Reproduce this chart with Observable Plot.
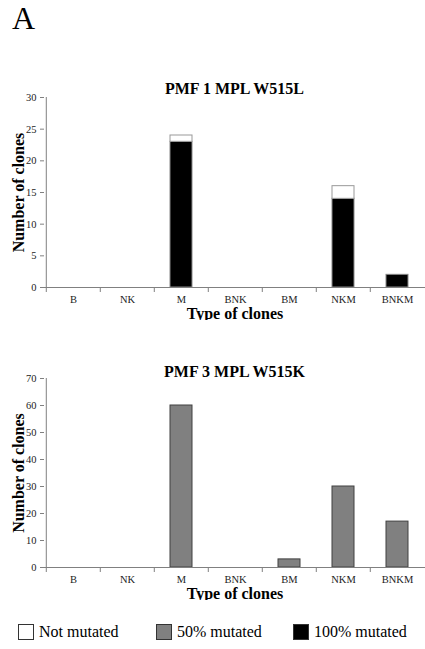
<!DOCTYPE html>
<html><head><meta charset="utf-8">
<script src="https://cdn.jsdelivr.net/npm/d3@7"></script>
<script src="https://cdn.jsdelivr.net/npm/@observablehq/plot@0.6"></script>
<style>
body{margin:0;background:#fff;font-family:"Liberation Serif","Times New Roman",serif;}
#root{position:relative;width:425px;height:649px;overflow:hidden;background:#fff}
.chart{position:absolute;left:0;z-index:1}
.title{position:absolute;left:44px;width:381px;text-align:center;font:bold 16px/16px "Liberation Serif",serif;color:#000;z-index:2}
.panel{position:absolute;left:12px;top:2px;font:32px/32px "Liberation Serif",serif;color:#000}
svg g[aria-label="y-axis label"] text, svg g[aria-label="x-axis label"] text{font:bold 16px "Liberation Serif",serif;fill:#000}
.legend{position:absolute;top:624px;left:0;width:425px;height:20px;font:16px/16px "Liberation Serif",serif;color:#000}
.item{position:absolute;top:0;display:flex;align-items:center}
.sw{width:14px;height:14px;border:1.5px solid #333;margin-right:5px;box-sizing:content-box}
</style>
</head>
<body>
<div id="root">
  <div class="panel">A</div>
  <div class="title" id="t1"></div>
  <div class="chart" id="c1" style="top:80px"></div>
  <div class="title" id="t2"></div>
  <div class="chart" id="c2" style="top:360px"></div>
  <div class="legend" id="legend"></div>
</div>
<script>
// ---- data ----
const types = ["B", "NK", "M", "BNK", "BM", "NKM", "BNKM"];
const pmf1Full = [0, 0, 23, 0, 0, 14, 2];   // 100% mutated
const pmf1Not  = [0, 0, 1, 0, 0, 2, 0];     // Not mutated
const pmf3Half = [0, 0, 60, 0, 3, 30, 17];  // 50% mutated
const pmf1Ticks = [0, 5, 10, 15, 20, 25, 30];
const pmf3Ticks = [0, 10, 20, 30, 40, 50, 60, 70];
const titles = ["PMF 1 MPL W515L", "PMF 3 MPL W515K"];
const statuses = ["Not mutated", "50% mutated", "100% mutated"];
const statusFill = ["#ffffff", "#808080", "#000000"];
const statusStroke = ["#999999", "#404040", "#888888"];

const W = 425, H = 240, ML = 44, MR = 0, MB = 33;
const step = (W - ML - MR) / types.length;

function rows(values, status) {
  return types.map((t, i) => ({type: t, status, value: values[i]})).filter(d => d.value > 0);
}

function makeChart(data, ticks, marginTop) {
  const yMax = ticks[ticks.length - 1];
  return Plot.plot({
    width: W, height: H,
    marginLeft: ML, marginRight: MR, marginTop, marginBottom: MB,
    style: {fontFamily: "Liberation Serif, Times New Roman, serif", fontSize: "10.5px", color: "#222", background: "transparent"},
    x: {domain: types, paddingInner: 0.6, paddingOuter: 0.3},
    y: {domain: [0, yMax]},
    color: {domain: statuses, range: statusFill},
    marks: [
      Plot.barY(data, {x: "type", y: "value", fill: "status",
        stroke: d => statusStroke[statuses.indexOf(d.status)], strokeWidth: 1}),
      Plot.ruleX([types[0]], {dx: -step / 2, y1: 0, y2: yMax, stroke: "#808080"}),
      Plot.ruleY([0], {stroke: "#808080"}),
      Plot.axisX({tickSize: 5, tickFormat: () => "", dx: -step / 2, stroke: "#808080", label: null}),
      Plot.axisX({tickSize: 0, tickPadding: 8, label: "Type of clones", labelAnchor: "center", labelOffset: 31, labelArrow: false}),
      Plot.axisY({ticks, tickSize: 4, tickPadding: 4, stroke: "#808080",
        label: "Number of clones", labelAnchor: "center", labelOffset: 32, labelArrow: false})
    ]
  });
}

const data1 = [...rows(pmf1Full, "100% mutated"), ...rows(pmf1Not, "Not mutated")];
const data2 = rows(pmf3Half, "50% mutated");

document.getElementById("t1").textContent = titles[0];
document.getElementById("t1").style.top = "81px";
document.getElementById("t2").textContent = titles[1];
document.getElementById("t2").style.top = "364px";
document.getElementById("c1").append(makeChart(data1, pmf1Ticks, 17));
document.getElementById("c2").append(makeChart(data2, pmf3Ticks, 18));

const legendX = [18, 156, 293];
const lg = document.getElementById("legend");
statuses.forEach((s, i) => {
  const it = document.createElement("div");
  it.className = "item";
  it.style.left = legendX[i] + "px";
  const sw = document.createElement("div");
  sw.className = "sw";
  sw.style.background = statusFill[i];
  const tx = document.createElement("span");
  tx.textContent = s;
  it.append(sw, tx);
  lg.append(it);
});
</script>
</body></html>
